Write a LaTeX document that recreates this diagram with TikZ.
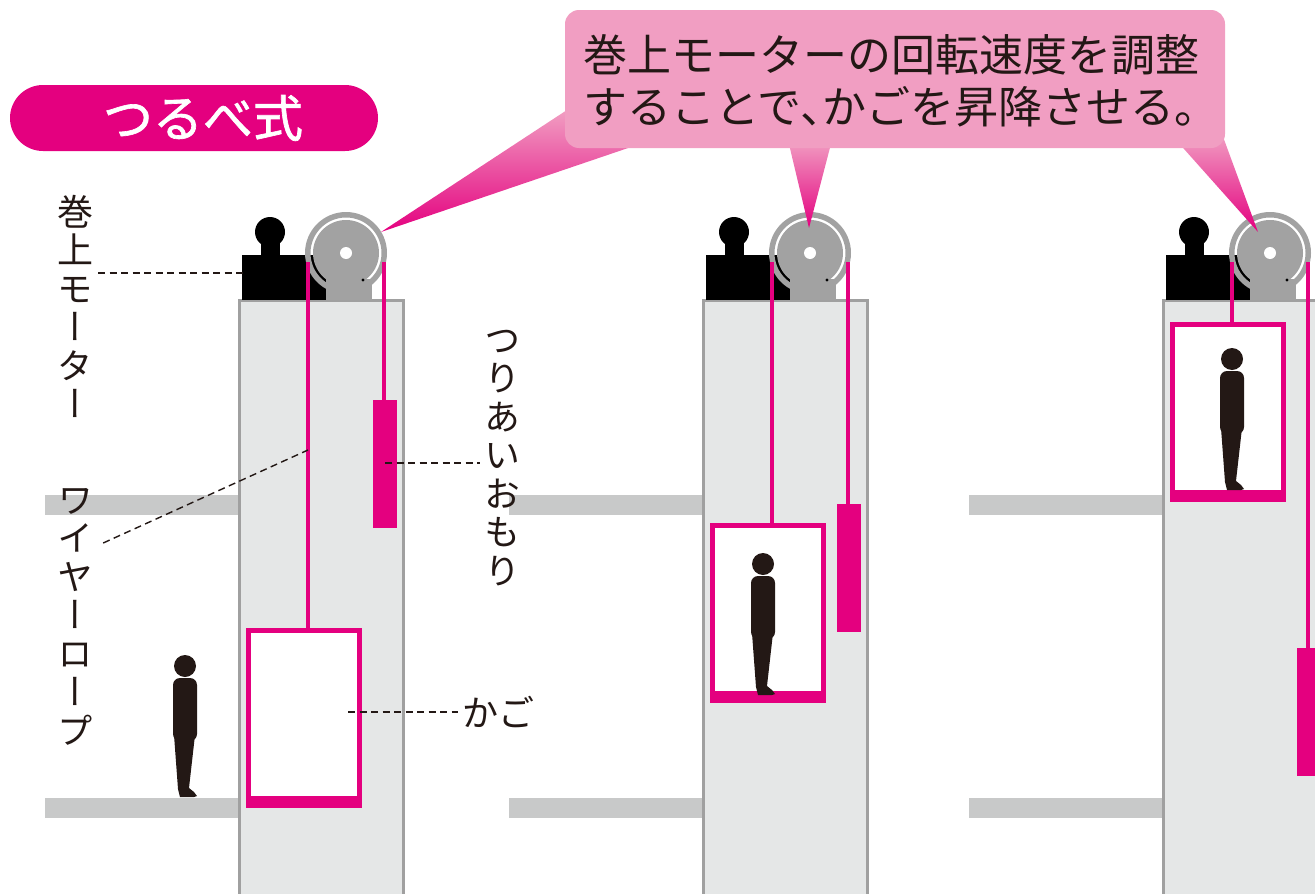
\documentclass[tikz,border=0pt]{standalone}
\usepackage{fontspec}
\usetikzlibrary{calc}
\newfontfamily\jp{Noto Sans CJK JP}
\newfontfamily\jpbold[FakeBold=1.3]{Noto Sans CJK JP}
\newfontfamily\jpvert[RawFeature=+vert]{Noto Sans CJK JP}
\definecolor{mag}{RGB}{228,0,127}
\definecolor{bubble}{RGB}{241,158,194}
\definecolor{shaftfill}{RGB}{229,231,231}
\definecolor{shaftwall}{RGB}{160,160,160}
\definecolor{slab}{RGB}{200,201,201}
\definecolor{wheel}{RGB}{162,162,162}
\definecolor{ink}{RGB}{35,24,21}

\tikzset{
  wall/.style={draw=shaftwall, line width=3pt},
  rope/.style={draw=mag, line width=3.5pt},
  carframe/.style={draw=mag, line width=5pt, fill=white},
  leader/.style={draw=ink, line width=1.4pt, dash pattern=on 7pt off 4.5pt},
  vlabel/.style={font=\fontsize{36}{38.5}\selectfont\jpvert, text=ink, align=center, inner sep=0pt},
  tail/.style={top color=bubble, middle color=bubble, bottom color=mag},
  % hoistway, origin at top-left corner
  shaft/.pic={
    \fill[shaftfill] (0,0) rectangle (164,600);
    \draw[wall] (0,600) -- (0,0) -- (164,0) -- (164,600);
  },
  % elevator car, origin at top-left corner
  car/.pic={
    \draw[carframe] (2.5,2.5) rectangle (113.5,177.5);
    \fill[mag] (0,168) rectangle (116,180);
  },
  % counterweight, origin at top-left corner
  weight/.pic={\fill[mag] (0,0) rectangle (24,128);},
  % standing figure, origin at the soles
  person/.pic={
    \fill[ink] (0,-131) circle (11);
    \fill[ink, rounded corners=7pt] (-12,-56) -- (-12,-119) -- (12,-119) -- (12,-56) -- cycle;
    \fill[ink] (-11,-62) -- (10,-62) -- (4,-9) -- (9,-5) -- (12,-1) -- (9,0) -- (-5,0) -- (-7,-8) -- cycle;
  },
  % traction machine and sheave, origin at the sheave centre
  hoist/.pic={
    \fill[black] (-104,2) rectangle (-19,47);
    \fill[black] (-85,-22) rectangle (-66,5);
    \fill[black] (-76,-21) circle (15);
    \fill[wheel, even odd rule] (0,0) circle (41) (0,0) circle (35.5);
    \fill[wheel] (0,0) circle (33);
    \fill[wheel] (-20,26) rectangle (26,47);
    \fill[white] (0,0) circle (6);
    \fill[black] (17,27) circle (1.6);
  },
}

\begin{document}
\begin{tikzpicture}[x=1pt,y=-1pt]
\useasboundingbox (0,0) rectangle (1315,894);
\clip (0,0) rectangle (1315,894);

% floor slabs beside each hoistway
\foreach \ox in {239,703,1163}{
  \fill[slab] (\ox-194,495) rectangle (\ox,515);
  \fill[slab] (\ox-194,798) rectangle (\ox,818);
}

% hoistways
\pic at (239,300) {shaft};
\pic at (703,300) {shaft};
\pic at (1163,300) {shaft};

% cars and counterweights
\pic at (246,628) {car};
\pic at (710,523) {car};
\pic at (1170,322) {car};
\pic at (373,400) {weight};
\pic at (837,504) {weight};
\pic at (1297,648) {weight};

% passengers
\pic at (185,797) {person};
\pic at (763,695) {person};
\pic at (1232,490) {person};

% machines on top
\pic at (346,253) {hoist};
\pic at (810,253) {hoist};
\pic at (1270,253) {hoist};

% wire ropes
\draw[rope] (308,262) -- (308,630);
\draw[rope] (384,262) -- (384,402);
\draw[rope] (772,262) -- (772,525);
\draw[rope] (848,262) -- (848,506);
\draw[rope] (1232,262) -- (1232,324);
\draw[rope] (1308,262) -- (1308,650);

% speech bubble
\shade[tail] (567,110) -- (634,146) -- (381,232) -- cycle;
\shade[tail] (788,140) -- (832,140) -- (809,228) -- cycle;
\shade[tail] (1176,140) -- (1222,134) -- (1258,232) -- cycle;
\fill[bubble, rounded corners=14pt] (565,10) rectangle (1225,148);
\node[anchor=west, inner sep=0pt, align=left, text=ink,
      font=\fontsize{44}{52}\selectfont\jp] (note) at (583,81)
  {巻上モーターの回転速度を調整\\することで、\hspace{-0.5em}かごを昇降させる。};

% title badge
\fill[mag, rounded corners=33pt] (10,85) rectangle (378,151);
\node[text=white, inner sep=0pt, font=\fontsize{50}{50}\selectfont\jpbold] (title) at (203,118) {つるべ式};

% labels
\node[vlabel, anchor=north] (motorlbl) at (75,195) {巻\\上\\モ\\ー\\タ\\ー};
\node[vlabel, anchor=north] (wirelbl) at (75,488) {ワ\\イ\\ヤ\\ー\\ロ\\ー\\プ};
\node[vlabel, anchor=north] (weightlbl) at (502,330) {つ\\り\\あ\\い\\お\\も\\り};
\node[anchor=west, inner sep=0pt, text=ink, font=\fontsize{36}{36}\selectfont\jp] (carlbl) at (462,712) {かご};

% leader lines
\coordinate (motorpt) at (245,273);
\coordinate (wirept) at (308,450);
\coordinate (weightpt) at (385,463);
\coordinate (carpt) at (348,712);
\draw[leader] ($(motorlbl.east|-motorpt)+(5,0)$) -- (motorpt);
\draw[leader] ($(wirelbl.north east)+(10,55)$) -- (wirept);
\draw[leader] (weightpt) -- ($(weightlbl.west|-weightpt)+(-4,0)$);
\draw[leader] (carpt) -- ($(carlbl.west)+(-4,0)$);
\end{tikzpicture}
\end{document}
